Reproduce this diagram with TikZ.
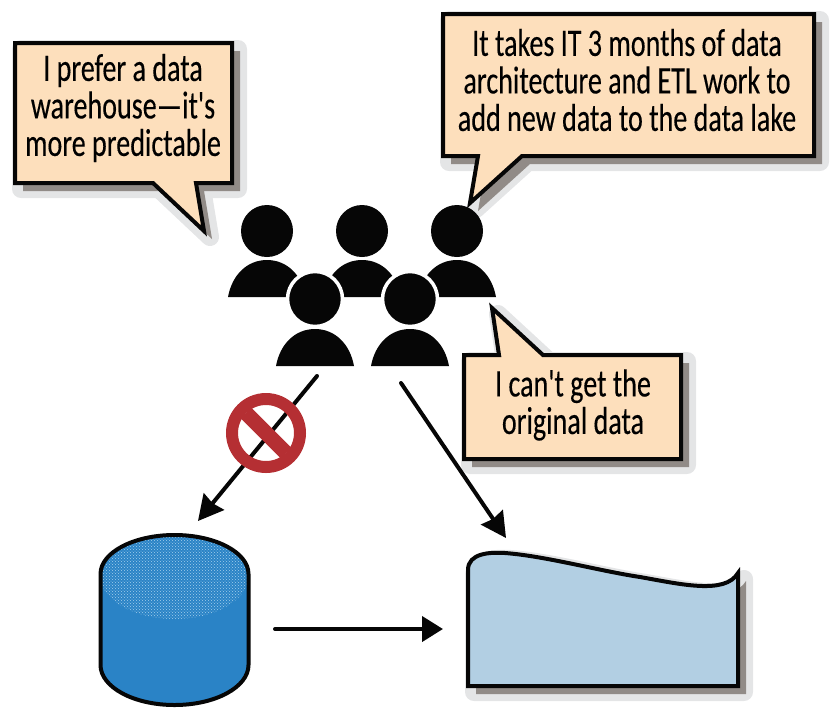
\documentclass[tikz,border=0pt]{standalone}
\usepackage{fontspec}
\newfontfamily\sayfont{Carlito}[FakeStretch=0.72,FakeBold=0.25]
\usetikzlibrary{patterns,arrows.meta}
\definecolor{peach}{HTML}{FDDFBC}
\definecolor{shad}{HTML}{918B87}
\definecolor{halo}{HTML}{E4E5E6}
\definecolor{dbblue}{HTML}{2A83C6}
\definecolor{dots}{HTML}{A5CFEC}
\definecolor{lakeblue}{HTML}{B2CFE3}
\definecolor{nored}{HTML}{B52F33}
\definecolor{ink}{HTML}{060606}
\def\bubA{(15,43) -- (232,43) -- (232,183) -- (196,183) -- (204,231) -- (153,183) -- (15,183) -- cycle}
\def\bubB{(443,14) -- (814,14) -- (814,156) -- (522,156) -- (470,203) -- (478,156) -- (443,156) -- cycle}
\def\bubC{(464,355) -- (499,355) -- (492,308) -- (543,355) -- (681,355) -- (681,459) -- (464,459) -- cycle}
\def\lake{(468,686) -- (468,570) .. controls (468,553) and (490,552) .. (505,553) .. controls (545,556) and (600,571) .. (640,577) .. controls (680,584) and (725,595) .. (738,573) -- (738,686) -- cycle}
\tikzset{
  x=1pt,y=-1pt,
  outline/.style={draw=ink,line width=4pt,line join=miter},
  bubble/.style={outline,fill=peach},
  halostyle/.style={draw=halo,fill=halo,line width=18pt,line join=round,shift={(6,6)}},
  shadowstyle/.style={fill=shad,shift={(8,8)}},
  saying/.style={align=center,font=\sayfont\fontsize{39}{37.5}\selectfont,inner sep=0pt,text=black},
  head/.style={fill=ink,draw=none},
  halohead/.style={fill=ink,draw=white,line width=3.5pt},
  conn/.style={draw=ink,line width=4pt,line cap=round}
}
\begin{document}
\begin{tikzpicture}
\useasboundingbox (0,0) rectangle (840,713);
% bubble shadows
\path[halostyle] \bubA; \path[halostyle] \bubB; \path[halostyle] \bubC;
\path[shadowstyle] \bubA; \path[shadowstyle] \bubB; \path[shadowstyle] \bubC;
\path[bubble] \bubA; \path[bubble] \bubB; \path[bubble] \bubC;
\node[saying] (sayA) at (123,108) {I prefer a data\\warehouse—it's\\more predictable};
\node[saying] (sayB) at (627,80) {It takes IT 3 months of data\\architecture and ETL work to\\add new data to the data lake};
\node[saying] (sayC) at (573,405) {I can't get the\\original data};
% back row people
\foreach \n/\cx in {p1/267,p2/362,p3/457}{
  \fill[head] (\cx-39,297) .. controls (\cx-35,275) and (\cx-20,260) .. (\cx,260) .. controls (\cx+20,260) and (\cx+35,275) .. (\cx+39,297) -- cycle;
  \node[head,circle,minimum size=52pt,inner sep=0pt] (\n) at (\cx,231) {};
}
% front row people
\foreach \n/\cx in {p4/315,p5/410}{
  \fill[head] (\cx-39,366) .. controls (\cx-35,344) and (\cx-20,329) .. (\cx,329) .. controls (\cx+20,329) and (\cx+35,344) .. (\cx+39,366) -- cycle;
  \node[halohead,circle,minimum size=55pt,inner sep=0pt] (\n) at (\cx,299) {};
}
% database
\fill[dbblue] (100.5,574) arc[start angle=180,end angle=360,x radius=74,y radius=39] -- (248.5,665) arc[start angle=0,end angle=180,x radius=74,y radius=40] -- cycle;
\path[pattern=crosshatch dots,pattern color=dots] (174.5,576) ellipse[x radius=74,y radius=43];
\draw[outline] (100.5,574) arc[start angle=180,end angle=360,x radius=74,y radius=39] -- (248.5,665) arc[start angle=0,end angle=180,x radius=74,y radius=40] -- cycle;
% lake
\path[halostyle] \lake;
\path[shadowstyle] \lake;
\path[fill=lakeblue,draw=ink,line width=4pt,line join=miter] \lake;
% connectors
\coordinate (fromWarehouse) at (317,376);
\coordinate (toWarehouse) at (198,521);
\coordinate (fromLake) at (401,383);
\coordinate (toLake) at (506,538);
\coordinate (dbOut) at (275,629);
\coordinate (lakeIn) at (443,629);
\draw[conn,-{Stealth[length=25pt,width=26pt,inset=2pt,fill=ink]}] (fromWarehouse) -- (toWarehouse);
\draw[conn,-{Stealth[length=25pt,width=26pt,inset=2pt,fill=ink]}] (fromLake) -- (toLake);
\draw[conn,-{Triangle[length=21pt,width=25pt,fill=ink]}] (dbOut) -- (lakeIn);
% no sign
\draw[nored,line width=12pt] (266,433) circle[radius=34];
\draw[nored,line width=15pt] (246,413) -- (286,453);
\end{tikzpicture}
\end{document}
